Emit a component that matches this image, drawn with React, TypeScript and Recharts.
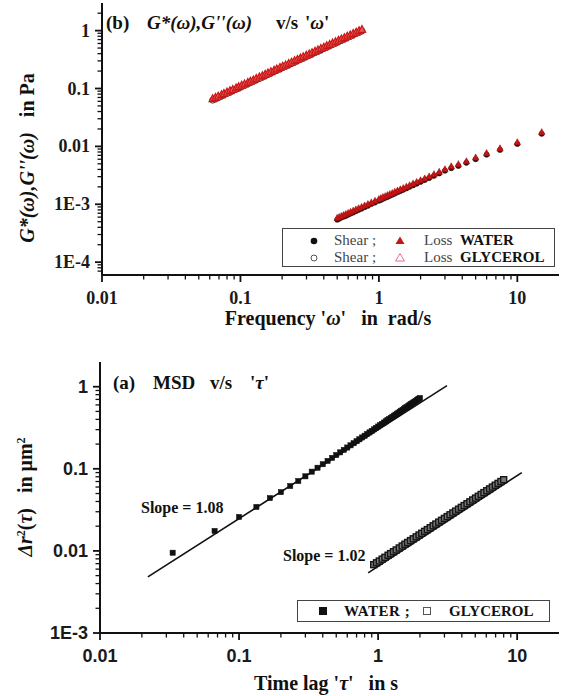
import React from "react";
import { ScatterChart, Scatter, XAxis, YAxis } from "recharts";

const SERIF = '"Liberation Serif", "Times New Roman", serif';
const SANS = '"Liberation Sans", Arial, sans-serif';

// ---- axis ticks ----
const X_TICKS = [
  0.01, 0.02, 0.03, 0.04, 0.05, 0.06, 0.07, 0.08, 0.09,
  0.1, 0.2, 0.3, 0.4, 0.5, 0.6, 0.7, 0.8, 0.9,
  1, 2, 3, 4, 5, 6, 7, 8, 9, 10,
];
const G_TICKS = [
  7e-5, 8e-5, 9e-5,
  1e-4, 2e-4, 3e-4, 4e-4, 5e-4, 6e-4, 7e-4, 8e-4, 9e-4,
  1e-3, 2e-3, 3e-3, 4e-3, 5e-3, 6e-3, 7e-3, 8e-3, 9e-3,
  0.01, 0.02, 0.03, 0.04, 0.05, 0.06, 0.07, 0.08, 0.09,
  0.1, 0.2, 0.3, 0.4, 0.5, 0.6, 0.7, 0.8, 0.9,
  1, 2,
];
const MSD_TICKS = [
  1e-3, 2e-3, 3e-3, 4e-3, 5e-3, 6e-3, 7e-3, 8e-3, 9e-3,
  0.01, 0.02, 0.03, 0.04, 0.05, 0.06, 0.07, 0.08, 0.09,
  0.1, 0.2, 0.3, 0.4, 0.5, 0.6, 0.7, 0.8, 0.9,
  1,
];
const X_DOMAIN = [0.01, 20];
const G_DOMAIN = [6e-5, 3];
const MSD_DOMAIN = [1e-3, 2];

// ---- (b) moduli vs frequency ----
const WATER_OMEGA = [
  15, 10, 7.5, 6, 5, 4.286, 3.75, 3.333, 3,
  2.727, 2.5, 2.308, 2.143, 2, 1.875, 1.765, 1.667, 1.579, 1.5,
  1.429, 1.364, 1.304, 1.25, 1.2, 1.154, 1.111, 1.071, 1.034, 1,
  0.9375, 0.882, 0.833, 0.789, 0.75, 0.714, 0.682, 0.652, 0.625, 0.6,
  0.577, 0.556, 0.536, 0.517, 0.5,
];
const WATER_LOSS = [
  0.0175, 0.0117, 0.0092, 0.0076, 0.0064, 0.0055, 0.0049, 0.0045, 0.004,
  0.00361, 0.00329, 0.00301, 0.00278, 0.00258, 0.00241, 0.00226, 0.00212, 0.002, 0.00189,
  0.0018, 0.00171, 0.00163, 0.00155, 0.00149, 0.00143, 0.00137, 0.00132, 0.00127, 0.00122,
  0.00114, 0.00107, 0.001, 0.000945, 0.000895, 0.000849, 0.000808, 0.000769, 0.000735, 0.000703,
  0.000674, 0.000648, 0.000623, 0.000599, 0.000578,
];
const WATER_SHEAR = [
  0.0165, 0.011, 0.0087, 0.0072, 0.006, 0.0052, 0.0046, 0.0042, 0.0038,
  0.0034, 0.0031, 0.00283, 0.00262, 0.00243, 0.00227, 0.00212, 0.002, 0.00188, 0.00178,
  0.00169, 0.00161, 0.00153, 0.00146, 0.0014, 0.00134, 0.00129, 0.00124, 0.00119, 0.00115,
  0.00107, 0.00101, 0.00094, 0.00089, 0.00084, 0.0008, 0.00076, 0.00072, 0.00069, 0.00066,
  0.00063, 0.00061, 0.00059, 0.00056, 0.00054,
];
const GLY_OMEGA = [
  0.063, 0.066, 0.069, 0.073, 0.076, 0.08, 0.084, 0.088, 0.093, 0.097,
  0.102, 0.107, 0.113, 0.118, 0.124, 0.13, 0.137, 0.144, 0.151, 0.158,
  0.166, 0.175, 0.183, 0.193, 0.202, 0.212, 0.223, 0.234, 0.246, 0.258,
  0.271, 0.284, 0.299, 0.314, 0.329, 0.346, 0.363, 0.381, 0.4, 0.42,
  0.441, 0.463, 0.486, 0.511, 0.536, 0.563, 0.591, 0.621, 0.652, 0.685,
  0.719, 0.755,
];
const GLY_LOSS = [
  0.066, 0.0695, 0.073, 0.0777, 0.0813, 0.086, 0.0908, 0.0956, 0.1017, 0.1066,
  0.1126, 0.1188, 0.1262, 0.1325, 0.1399, 0.1475, 0.1563, 0.1652, 0.1742, 0.1832,
  0.1935, 0.2051, 0.2156, 0.2287, 0.2406, 0.2537, 0.2684, 0.2831, 0.2993, 0.3156,
  0.3333, 0.351, 0.3717, 0.3924, 0.4134, 0.4372, 0.4611, 0.4865, 0.5136, 0.542,
  0.5723, 0.604, 0.6374, 0.6739, 0.7107, 0.7504, 0.792, 0.8367, 0.8831, 0.933,
  0.9845, 1.039,
];
const GLY_SHEAR = [
  0.063, 0.066, 0.069, 0.074, 0.077, 0.082, 0.086, 0.091, 0.097, 0.101,
  0.107, 0.113, 0.12, 0.126, 0.133, 0.14, 0.148, 0.157, 0.165, 0.174,
  0.184, 0.195, 0.205, 0.217, 0.229, 0.241, 0.255, 0.269, 0.284, 0.3,
  0.317, 0.333, 0.353, 0.373, 0.393, 0.415, 0.438, 0.462, 0.488, 0.515,
  0.544, 0.574, 0.606, 0.64, 0.675, 0.713, 0.752, 0.795, 0.839, 0.886,
  0.935, 0.987,
];

// ---- (a) MSD vs time lag ----
const WATER_TAU = [
  0.0333, 0.0667, 0.1, 0.1333, 0.1667, 0.2, 0.2333, 0.2667, 0.3, 0.3333,
  0.3667, 0.4, 0.4333, 0.4667, 0.5, 0.5333, 0.5667, 0.6, 0.6333, 0.6667,
  0.7, 0.7333, 0.7667, 0.8, 0.8333, 0.8667, 0.9, 0.9333, 0.9667, 1,
  1.0333, 1.0667, 1.1, 1.1333, 1.1667, 1.2, 1.2333, 1.2667, 1.3, 1.3333,
  1.3667, 1.4, 1.4333, 1.4667, 1.5, 1.5333, 1.5667, 1.6, 1.6333, 1.6667,
  1.7, 1.7333, 1.7667, 1.8, 1.8333, 1.8667, 1.9, 1.9333, 1.9667, 2,
];
const WATER_MSD = [
  0.0095, 0.0175, 0.0259, 0.0343, 0.044, 0.052, 0.0617, 0.071, 0.081, 0.0923,
  0.103, 0.1138, 0.1248, 0.1359, 0.1472, 0.1586, 0.1701, 0.1817, 0.1933, 0.2051,
  0.217, 0.2289, 0.241, 0.2531, 0.2653, 0.2776, 0.2899, 0.3023, 0.3148, 0.3273,
  0.3398, 0.3525, 0.3653, 0.3781, 0.3909, 0.4038, 0.4169, 0.4299, 0.4429, 0.456,
  0.4693, 0.4824, 0.4957, 0.509, 0.5224, 0.5357, 0.5493, 0.5626, 0.5762, 0.5896,
  0.6032, 0.6171, 0.631, 0.6446, 0.6582, 0.6722, 0.6861, 0.6998, 0.7139, 0.7278,
];
const GLY_TAU = [
  0.93, 0.975, 1.02, 1.07, 1.12, 1.18, 1.23, 1.29, 1.35, 1.42,
  1.49, 1.56, 1.63, 1.71, 1.79, 1.88, 1.97, 2.06, 2.16, 2.26,
  2.37, 2.49, 2.6, 2.73, 2.86, 3.0, 3.14, 3.29, 3.45, 3.61,
  3.79, 3.97, 4.16, 4.36, 4.57, 4.79, 5.02, 5.26, 5.51, 5.77,
  6.05, 6.34, 6.64, 6.96, 7.29, 7.64, 8.0,
];
const GLY_MSD = [
  0.0068, 0.00716, 0.00753, 0.00794, 0.00835, 0.00885, 0.00927, 0.00977, 0.01027, 0.01086,
  0.01146, 0.01206, 0.01266, 0.01335, 0.01404, 0.01482, 0.01561, 0.0164, 0.01729, 0.01817,
  0.01915, 0.02023, 0.02122, 0.0224, 0.02358, 0.02486, 0.02615, 0.02753, 0.02902, 0.03052,
  0.0322, 0.0339, 0.03569, 0.0376, 0.03961, 0.04173, 0.04396, 0.04628, 0.04873, 0.05129,
  0.05406, 0.05692, 0.05992, 0.06312, 0.06642, 0.06998, 0.07365,
];
// power-law fits (end points)
const FIT_WATER_TAU = [0.0221, 3.13];
const FIT_WATER_MSD = [0.00483, 1.03];
const FIT_GLY_TAU = [0.848, 10.8];
const FIT_GLY_MSD = [0.0054, 0.09];

// ---- layout ----
const W = 561;
const TOP_H = 340;
const BOT_TOP = 340;
const BOT_H = 356;
const P1 = { left: 102, right: 559, top: 3, bottom: 275 }; // plot box of (b), page coords
const P2 = { left: 100, right: 559, top: 22, bottom: 293 }; // plot box of (a), chart coords

const pts = (xs: number[], ys: number[]) => xs.map((x, i) => ({ x, y: ys[i] }));

const isMajor = (v: number) => Math.abs(Math.log10(v) - Math.round(Math.log10(v))) < 1e-6;
const fmtTick = (v: number) => (v < 0.005 ? `1E${Math.round(Math.log10(v))}` : String(v));

// tick labels (tickSize = tickMargin = 0, so x/y arrive on the axis line)
function XTick(props: any) {
  const { x, y, payload, font } = props;
  const v = payload.value;
  if (!isMajor(v)) return <g />;
  return (
    <text x={x} y={y + 23} textAnchor="middle" dominantBaseline="central" fontFamily={font} fontWeight="bold" fontSize={18} fill="#1a1a1a">
      {fmtTick(v)}
    </text>
  );
}
function YTick(props: any) {
  const { x, y, payload, font } = props;
  const v = payload.value;
  if (!isMajor(v)) return <g />;
  return (
    <text x={x - 12} y={y} textAnchor="end" dominantBaseline="central" fontFamily={font} fontWeight="bold" fontSize={18} fill="#1a1a1a">
      {fmtTick(v)}
    </text>
  );
}

// log-axis tick comb laid over the axis lines
function Comb({ box, xTicks, yTicks, xDom, yDom, height }: any) {
  const lx = (v: number) =>
    box.left + ((Math.log10(v) - Math.log10(xDom[0])) / (Math.log10(xDom[1]) - Math.log10(xDom[0]))) * (box.right - box.left);
  const ly = (v: number) =>
    box.bottom - ((Math.log10(v) - Math.log10(yDom[0])) / (Math.log10(yDom[1]) - Math.log10(yDom[0]))) * (box.bottom - box.top);
  return (
    <svg width={W} height={height} style={{ position: "absolute", left: 0, top: 0, pointerEvents: "none" }}>
      {xTicks.map((v: number) => {
        const m = isMajor(v);
        return <line key={`x${v}`} x1={lx(v)} x2={lx(v)} y1={box.bottom} y2={box.bottom + (m ? 7 : 4.5)} stroke="#111" strokeWidth={m ? 1.8 : 1.3} />;
      })}
      {yTicks.map((v: number) => {
        const m = isMajor(v);
        return <line key={`y${v}`} x1={box.left} x2={box.left - (m ? 7 : 4.5)} y1={ly(v)} y2={ly(v)} stroke="#111" strokeWidth={m ? 1.8 : 1.3} />;
      })}
    </svg>
  );
}

const tri = (fill: string, stroke: string, s: number, sw = 1) => (p: any) => (
  <path
    d={`M${p.cx},${p.cy - s * 1.15}L${p.cx + s},${p.cy + s * 0.75}L${p.cx - s},${p.cy + s * 0.75}Z`}
    fill={fill}
    stroke={stroke}
    strokeWidth={sw}
  />
);
const circ = (fill: string, stroke: string, r: number, sw = 1) => (p: any) => (
  <circle cx={p.cx} cy={p.cy} r={r} fill={fill} stroke={stroke} strokeWidth={sw} />
);
const sq = (fill: string, stroke: string, s: number, sw = 1) => (p: any) => (
  <rect x={p.cx - s} y={p.cy - s} width={2 * s} height={2 * s} fill={fill} stroke={stroke} strokeWidth={sw} />
);
const noShape = () => <g />;

const frameX = { stroke: "#333", strokeWidth: 1.6 };
const mainAxis = { stroke: "#111", strokeWidth: 2 };

const abs = (left: number, top: number, extra: React.CSSProperties = {}): React.CSSProperties => ({
  position: "absolute",
  left,
  top,
  whiteSpace: "nowrap",
  fontFamily: SERIF,
  fontWeight: "bold",
  color: "#111",
  lineHeight: 1,
  ...extra,
});

function ModulusChart() {
  return (
    <ScatterChart width={W} height={TOP_H} margin={{ top: P1.top, right: W - P1.right, bottom: 0, left: 0 }}>
      <XAxis xAxisId="top" orientation="top" type="number" scale="log" domain={X_DOMAIN} height={0}
        tick={false} tickLine={false} axisLine={frameX} />
      <YAxis yAxisId="right" orientation="right" type="number" scale="log" domain={G_DOMAIN} width={0}
        tick={false} tickLine={false} axisLine={frameX} />
      <XAxis dataKey="x" type="number" scale="log" domain={X_DOMAIN} ticks={X_TICKS} interval={0}
        tickSize={0} tickMargin={0} tickLine={false} axisLine={mainAxis} height={TOP_H - P1.bottom} tick={<XTick font={SERIF} />} />
      <YAxis dataKey="y" type="number" scale="log" domain={G_DOMAIN} ticks={G_TICKS} interval={0}
        tickSize={0} tickMargin={0} tickLine={false} axisLine={mainAxis} width={P1.left} tick={<YTick font={SERIF} />} />
      <Scatter data={pts(GLY_OMEGA, GLY_SHEAR)} shape={circ("none", "#333", 3, 1)} isAnimationActive={false} />
      <Scatter data={pts(GLY_OMEGA, GLY_LOSS)} shape={tri("#e25a5a", "#cc1515", 3.6, 1.2)} isAnimationActive={false} />
      <Scatter data={pts(WATER_OMEGA, WATER_SHEAR)} shape={circ("#111", "#111", 2.6, 0.5)} isAnimationActive={false} />
      <Scatter data={pts(WATER_OMEGA, WATER_LOSS)} shape={tri("#c81414", "#a80f0f", 3.2, 0.6)} isAnimationActive={false} />
    </ScatterChart>
  );
}

function MsdChart() {
  return (
    <ScatterChart width={W} height={BOT_H} margin={{ top: P2.top, right: W - P2.right, bottom: 0, left: 0 }}>
      <XAxis xAxisId="top" orientation="top" type="number" scale="log" domain={X_DOMAIN} height={0}
        tick={false} tickLine={false} axisLine={frameX} />
      <YAxis yAxisId="right" orientation="right" type="number" scale="log" domain={MSD_DOMAIN} width={0}
        tick={false} tickLine={false} axisLine={frameX} />
      <XAxis dataKey="x" type="number" scale="log" domain={X_DOMAIN} ticks={X_TICKS} interval={0}
        tickSize={0} tickMargin={0} tickLine={false} axisLine={mainAxis} height={BOT_H - P2.bottom} tick={<XTick font={SANS} />} />
      <YAxis dataKey="y" type="number" scale="log" domain={MSD_DOMAIN} ticks={MSD_TICKS} interval={0}
        tickSize={0} tickMargin={0} tickLine={false} axisLine={mainAxis} width={P2.left} tick={<YTick font={SANS} />} />
      <Scatter data={pts(FIT_WATER_TAU, FIT_WATER_MSD)} line={{ stroke: "#111", strokeWidth: 1.6 }} shape={noShape} isAnimationActive={false} />
      <Scatter data={pts(FIT_GLY_TAU, FIT_GLY_MSD)} line={{ stroke: "#111", strokeWidth: 1.6 }} shape={noShape} isAnimationActive={false} />
      <Scatter data={pts(GLY_TAU, GLY_MSD)} shape={sq("#777", "#151515", 3, 1.4)} isAnimationActive={false} />
      <Scatter data={pts(WATER_TAU, WATER_MSD)} shape={sq("#111", "#111", 2.6, 0.5)} isAnimationActive={false} />
    </ScatterChart>
  );
}

export default function App() {
  return (
    <div style={{ position: "absolute", left: 0, top: 0, width: W, height: 696, background: "#fff" }}>
      <div style={{ position: "absolute", left: 0, top: 0, width: W, height: TOP_H }}>
        <ModulusChart />
        <Comb box={P1} xTicks={X_TICKS} yTicks={G_TICKS} xDom={X_DOMAIN} yDom={G_DOMAIN} height={TOP_H} />
      </div>
      <div style={{ position: "absolute", left: 0, top: BOT_TOP, width: W, height: BOT_H }}>
        <MsdChart />
        <Comb box={P2} xTicks={X_TICKS} yTicks={MSD_TICKS} xDom={X_DOMAIN} yDom={MSD_DOMAIN} height={BOT_H} />
      </div>

      {/* panel (b) texts */}
      <div style={abs(106, 13, { fontSize: 19 })}>(b)</div>
      <div style={abs(147, 13, { fontSize: 19, fontStyle: "italic" })}>G*(ω),G''(ω)</div>
      <div style={abs(276, 13, { fontSize: 19 })}>v/s</div>
      <div style={abs(305, 13, { fontSize: 19 })}>
        '<i>ω</i>'
      </div>
      <div style={abs(27, 158, { fontSize: 20, transform: "translate(-50%,-50%) rotate(-90deg)" })}>
        <i>G*(ω),G''(ω)</i>&nbsp;&nbsp; in Pa
      </div>
      <div style={abs(328, 318, { fontSize: 20, transform: "translate(-50%,-50%)" })}>
        Frequency '<i>ω</i>' &nbsp; in &nbsp;rad/s
      </div>
      <div style={{ position: "absolute", left: 282, top: 228, width: 271, height: 37, border: "1.5px solid #444", background: "#fff" }}>
        <svg width={271} height={37} style={{ position: "absolute", left: 0, top: 0 }}>
          <circle cx={31} cy={12} r={3.3} fill="#111" />
          <circle cx={31} cy={29} r={3} fill="none" stroke="#555" strokeWidth={1} />
          <path d="M117,7.5L121.5,15L112.5,15Z" fill="#c81414" />
          <path d="M117,24.5L121.5,32L112.5,32Z" fill="none" stroke="#e07088" strokeWidth={1} />
        </svg>
        <div style={abs(51, 4, { fontSize: 15, fontWeight: "normal", color: "#444" })}>Shear ;</div>
        <div style={abs(51, 21, { fontSize: 15, fontWeight: "normal", color: "#444" })}>Shear ;</div>
        <div style={abs(141, 4, { fontSize: 15, fontWeight: "normal", color: "#444" })}>Loss</div>
        <div style={abs(141, 21, { fontSize: 15, fontWeight: "normal", color: "#444" })}>Loss</div>
        <div style={abs(177, 4, { fontSize: 15 })}>WATER</div>
        <div style={abs(177, 21, { fontSize: 15 })}>GLYCEROL</div>
      </div>

      {/* panel (a) texts */}
      <div style={abs(113, 373, { fontSize: 19 })}>(a)</div>
      <div style={abs(153, 373, { fontSize: 19 })}>MSD</div>
      <div style={abs(210, 373, { fontSize: 19 })}>v/s</div>
      <div style={abs(250, 373, { fontSize: 19 })}>
        '<i>τ</i>'
      </div>
      <div style={abs(25, 497, { fontSize: 20, transform: "translate(-50%,-50%) rotate(-90deg)" })}>
        <i>Δr</i><sup style={{ fontSize: 12 }}>2</sup>(<i>τ</i>)&nbsp;&nbsp; in μm<sup style={{ fontSize: 12 }}>2</sup>
      </div>
      <div style={abs(326, 683, { fontSize: 20, transform: "translate(-50%,-50%)" })}>
        Time lag '<i>τ</i>' &nbsp; in s
      </div>
      <div style={abs(141, 500, { fontSize: 16 })}>Slope = 1.08</div>
      <div style={abs(283, 548, { fontSize: 16 })}>Slope = 1.02</div>
      <div style={{ position: "absolute", left: 297, top: 600, width: 251, height: 20, border: "1.5px solid #444", background: "#fff" }}>
        <svg width={251} height={20} style={{ position: "absolute", left: 0, top: 0 }}>
          <rect x={21} y={6} width={8} height={8} fill="#111" />
          <rect x={125.5} y={6.5} width={7} height={7} fill="none" stroke="#555" strokeWidth={1} />
        </svg>
        <div style={abs(46, 3, { fontSize: 15, letterSpacing: 0.5 })}>WATER ;</div>
        <div style={abs(151, 3, { fontSize: 15 })}>GLYCEROL</div>
      </div>
    </div>
  );
}
